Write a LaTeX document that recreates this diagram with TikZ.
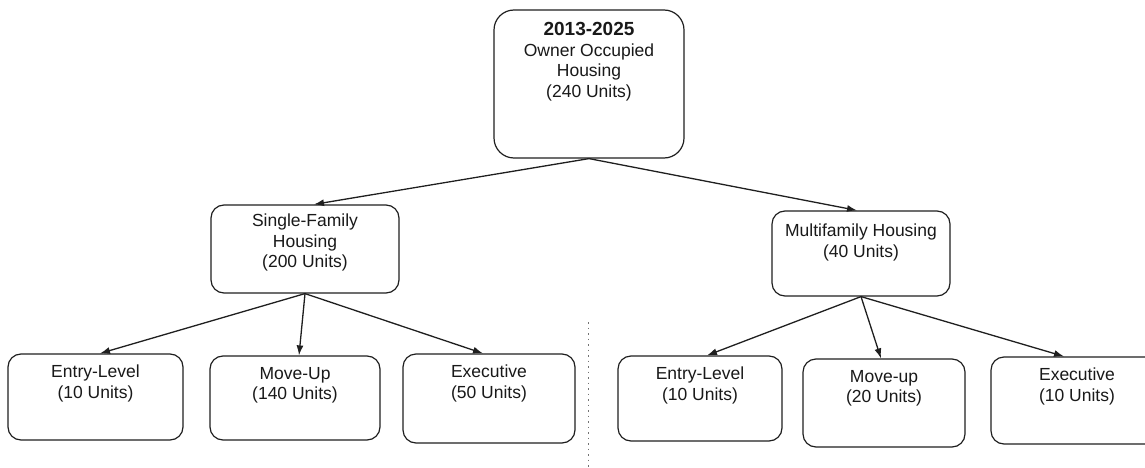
\documentclass[tikz,border=0pt]{standalone}
\usepackage{fontspec}
\setmainfont{Liberation Sans}
\usetikzlibrary{arrows.meta}
\tikzset{
  boxshape/.style={draw=black!88, line width=1.2pt, rounded corners=13pt, fill=white, inner sep=0pt},
  lbl/.style={inner sep=0pt, align=center, font=\fontsize{17.5}{20.5}\selectfont, text=black!90},
  arr/.style={draw=black!88, line width=1.3pt, -{Latex[length=10pt,width=7pt]}},
  divider/.style={draw=black!55, line width=0.8pt, dash pattern=on 1.5pt off 4pt}
}
\begin{document}
\begin{tikzpicture}[x=1pt,y=-1pt]
\useasboundingbox (0,0) rectangle (1145,468);
\clip (0,0) rectangle (1145,468);
% top
\node[boxshape, rounded corners=20pt, minimum width=190pt, minimum height=148pt] (top) at (589,84) {};
\node[lbl, anchor=north] (topT) at ([yshift=-13pt]top.north) {{\fontsize{19}{20.5}\selectfont\bfseries 2013-2025}\\Owner Occupied\\Housing\\(240 Units)};
% middle
\node[boxshape, minimum width=188pt, minimum height=88pt] (sf) at (305,249) {};
\node[lbl, anchor=north] (sfT) at ([yshift=-9.5pt]sf.north) {Single-Family\\Housing\\(200 Units)};
\node[boxshape, minimum width=178pt, minimum height=85pt] (mf) at (861,253.5) {};
\node[lbl, anchor=north] (mfT) at ([yshift=-13.5pt]mf.north) {Multifamily Housing\\(40 Units)};
% bottom left
\node[boxshape, minimum width=175pt, minimum height=86pt] (e1) at (95.5,397) {};
\node[lbl, anchor=north] (e1T) at ([yshift=-11.5pt]e1.north) {Entry-Level\\(10 Units)};
\node[boxshape, minimum width=170pt, minimum height=84pt] (m1) at (295,398) {};
\node[lbl, anchor=north] (m1T) at ([yshift=-11.5pt]m1.north) {Move-Up\\(140 Units)};
\node[boxshape, minimum width=172pt, minimum height=89pt] (x1) at (489,398.5) {};
\node[lbl, anchor=north] (x1T) at ([yshift=-11.5pt]x1.north) {Executive\\(50 Units)};
% bottom right
\node[boxshape, minimum width=164pt, minimum height=85pt] (e2) at (700,398.5) {};
\node[lbl, anchor=north] (e2T) at ([yshift=-11.5pt]e2.north) {Entry-Level\\(10 Units)};
\node[boxshape, minimum width=162pt, minimum height=88pt] (m2) at (884,403) {};
\node[lbl, anchor=north] (m2T) at ([yshift=-11.5pt]m2.north) {Move-up\\(20 Units)};
\node[boxshape, minimum width=172pt, minimum height=87pt] (x2) at (1077,400.5) {};
\node[lbl, anchor=north] (x2T) at ([yshift=-11.5pt]x2.north) {Executive\\(10 Units)};
% divider
\coordinate (dvA) at (588,322);
\coordinate (dvB) at (588,468);
\draw[divider] (dvA) -- (dvB);
% arrows
\draw[arr] (top.south) -- ([xshift=9pt]sf.north);
\draw[arr] (top.south) -- ([xshift=-4pt]mf.north);
\draw[arr] (sf.south) -- ([xshift=4.5pt]e1.north);
\draw[arr] (sf.south) -- ([xshift=4pt]m1.north);
\draw[arr] (sf.south) -- ([xshift=-6pt]x1.north);
\draw[arr] (mf.south) -- ([xshift=7pt]e2.north);
\draw[arr] (mf.south) -- ([xshift=-3pt]m2.north);
\draw[arr] (mf.south) -- ([xshift=-13pt]x2.north);
\end{tikzpicture}
\end{document}
